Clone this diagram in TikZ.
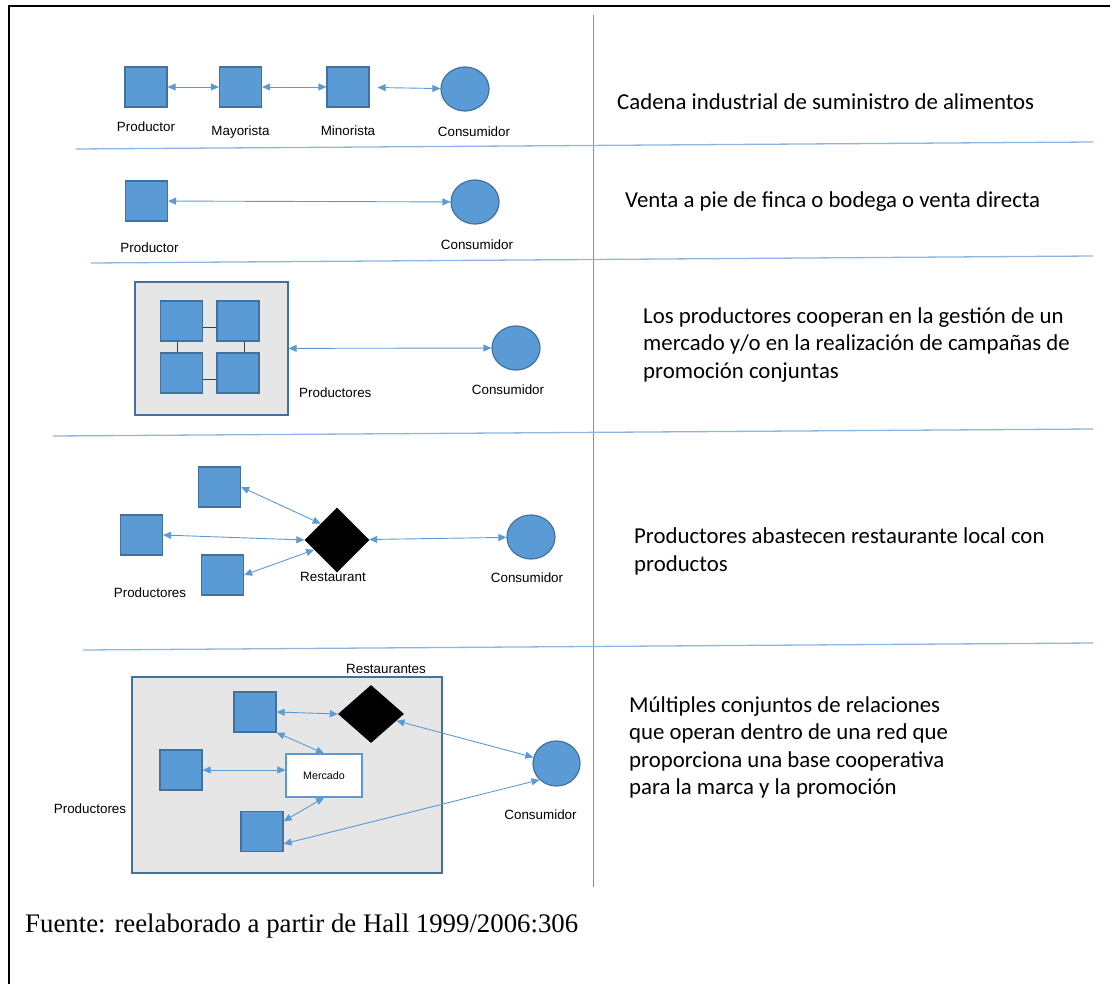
\documentclass[tikz,border=0pt]{standalone}
\usepackage{fontspec}
\setmainfont{Liberation Serif}
\newfontfamily\labelfont{Liberation Sans}
\newfontfamily\descfont{Carlito}
\usetikzlibrary{calc,positioning,graphs,shapes.geometric,arrows.meta}
\definecolor{boxblue}{HTML}{5B9BD5}
\definecolor{edgeblue}{HTML}{41719C}
\definecolor{linkblue}{HTML}{5B9BD5}
\definecolor{ruleblue}{HTML}{8DB6E0}
\definecolor{panelgray}{HTML}{E7E6E6}
\definecolor{joingray}{HTML}{404040}

\begin{document}
\begin{tikzpicture}[x=1pt, y=-1pt, node distance=14pt, >={Triangle[length=8pt,width=7pt]},
  prod box/.style={draw=edgeblue, fill=boxblue, line width=1.2pt, minimum width=42pt, minimum height=40pt, inner sep=0pt},
  cons disc/.style={ellipse, draw=edgeblue, fill=boxblue, line width=1.2pt, minimum width=48pt, minimum height=44pt, inner sep=0pt},
  rest diamond/.style={diamond, fill=black, minimum width=65pt, minimum height=65pt, inner sep=0pt},
  group panel/.style={draw=edgeblue, fill=panelgray, line width=1.2pt, inner sep=0pt},
  link/.style={<->, draw=linkblue, line width=0.9pt},
  tag/.style={font=\labelfont\fontsize{13.4}{16}\selectfont, inner sep=0pt},
  desc/.style={font=\descfont\fontsize{22.8}{27.5}\selectfont, align=left, anchor=base west, inner sep=0pt},
  sep rule/.style={draw=ruleblue, line width=1.3pt}]
\useasboundingbox (0,0) rectangle (1110,984);

\draw[line width=2pt] (1110,6) -- (9,6) -- (9,984);
\draw[linkblue, line width=0.9pt] (593,15) -- (593,887);
\draw[sep rule] (76,149) -- (1093,142);
\draw[sep rule] (91,263) -- (1093,256);
\draw[sep rule] (53,436) -- (1093,429);
\draw[sep rule] (83,650) -- (1093,643);

\node[prod box]  (prod 1) at (146,87)   {};
\node[prod box]  (may 1)  at (240.5,87) {};
\node[prod box]  (min 1)  at (348,87)   {};
\node[cons disc] (cons 1) at (465,89)   {};
\node[tag, below=14pt of prod 1]             (lab prod 1) {Productor};
\node[tag, below=18pt of may 1]              (lab may 1)  {Mayorista};
\node[tag, below=18pt of min 1]              (lab min 1)  {Minorista};
\node[tag, below=15pt of cons 1, xshift=9pt] (lab cons 1) {Consumidor};
\graph[edges=link]{
	(prod 1) <-> (may 1) <-> (min 1) <->[shorten <=8pt] (cons 1);
};

\node[prod box]  (prod 2) at (146.5,201) {};
\node[cons disc] (cons 2) at (475,202)   {};
\node[tag, below=21pt of prod 2, xshift=3pt] (lab prod 2) {Productor};
\node[tag, below=15pt of cons 2, xshift=2pt] (lab cons 2) {Consumidor};
\draw[link] (prod 2) -- (cons 2);

\node[group panel, minimum width=153pt, minimum height=133pt] (group 3) at (211.5,348.5) {};
\node[prod box] (prod 3a) at (181.5,321) {};
\node[prod box] (prod 3b) at (238,321)   {};
\node[prod box] (prod 3c) at (181.5,373) {};
\node[prod box] (prod 3d) at (238,373)   {};
\node[cons disc] (cons 3) at (516,348) {};
\draw[joingray, line width=1pt] ($(prod 3a.north east)!0.65!(prod 3a.south east)$) -- ($(prod 3b.north west)!0.65!(prod 3b.south west)$);
\draw[joingray, line width=1pt] ($(prod 3c.north east)!0.65!(prod 3c.south east)$) -- ($(prod 3d.north west)!0.65!(prod 3d.south west)$);
\draw[joingray, line width=1pt] ($(prod 3a.south west)!0.4!(prod 3a.south east)$) -- ($(prod 3c.north west)!0.4!(prod 3c.north east)$);
\draw[joingray, line width=1pt] ($(prod 3b.south west)!0.64!(prod 3b.south east)$) -- ($(prod 3d.north west)!0.64!(prod 3d.north east)$);
\node[tag, anchor=west] (lab group 3) at (299,393) {Productores};
\node[tag, below=14pt of cons 3, xshift=-8pt] (lab cons 3) {Consumidor};
\draw[link] (group 3) -- (cons 3);

\node[prod box]     (prod 4a) at (219.5,487) {};
\node[prod box]     (prod 4b) at (141.5,535) {};
\node[prod box]     (prod 4c) at (222.5,575) {};
\node[rest diamond] (rest 4)  at (337,540)   {};
\node[cons disc]    (cons 4)  at (531,537)   {};
\node[tag] (lab rest 4)  at (333,577) {Restaurant};
\node[tag] (lab group 4) at (150,593) {Productores};
\node[tag, below=13pt of cons 4, xshift=-4pt] (lab cons 4) {Consumidor};
\draw[link] (prod 4a.east) -- (rest 4.north west);
\draw[link] (prod 4b.east) -- (rest 4.west);
\draw[link] (prod 4c.east) -- ($(rest 4.west)!0.3!(rest 4.south)$);
\draw[link] (rest 4) -- (cons 4);

\node[group panel, minimum width=310pt, minimum height=196pt] (group 5) at (287,775) {};
\node[prod box] (prod 5a) at (255,712)   {};
\node[prod box] (prod 5b) at (181,770)   {};
\node[prod box] (prod 5c) at (262,831.5) {};
\node[rest diamond, minimum width=66pt, minimum height=58pt] (rest 5) at (371,714) {};
\node[draw=linkblue, fill=white, line width=1.2pt, minimum width=76pt, minimum height=43pt,
      font=\labelfont\fontsize{10.7}{13}\selectfont] (merc 5) at (324,775.5) {Mercado};
\node[cons disc, minimum width=47pt, minimum height=45pt] (cons 5) at (556.5,763.5) {};
\node[tag, above=10.5pt of rest 5, xshift=15pt]  (lab rest 5)  {Restaurantes};
\node[tag, below=23pt of cons 5, xshift=-16pt]   (lab cons 5)  {Consumidor};
\node[tag] (lab group 5) at (90,809) {Productores};
\draw[link] (prod 5a.east) -- (rest 5.west);
\draw[link] (prod 5a.south east) -- (merc 5.north);
\draw[link] (prod 5b.east) -- (prod 5b.east -| merc 5.west);
\draw[link] (merc 5.south) -- ($(prod 5c.north east)!0.25!(prod 5c.south east)$);
\draw[link] (rest 5) -- (cons 5);
\draw[link] (cons 5.south west) -- ($(prod 5c.north east)!0.8!(prod 5c.south east)$);

\node[desc] (desc 1) at (617,110) {Cadena industrial de suministro de alimentos};
\node[desc] (desc 2) at (625,208) {Venta a pie de finca o bodega o venta directa};
\node[desc] (desc 3) at (643,378) {Los productores cooperan en la gestión de un\\mercado y/o en la realización de campañas de\\promoción conjuntas};
\node[desc] (desc 4) at (634,571) {Productores abastecen restaurante local con\\productos};
\node[desc] (desc 5) at (629,794.5) {Múltiples conjuntos de relaciones\\que operan dentro de una red que\\proporciona una base cooperativa\\para la marca y la promoción};

\node[anchor=base west, inner sep=0pt, font=\fontsize{26.8}{32}\selectfont] (source) at (25,932) {Fuente: reelaborado a partir de Hall 1999/2006:306};
\end{tikzpicture}
\end{document}
